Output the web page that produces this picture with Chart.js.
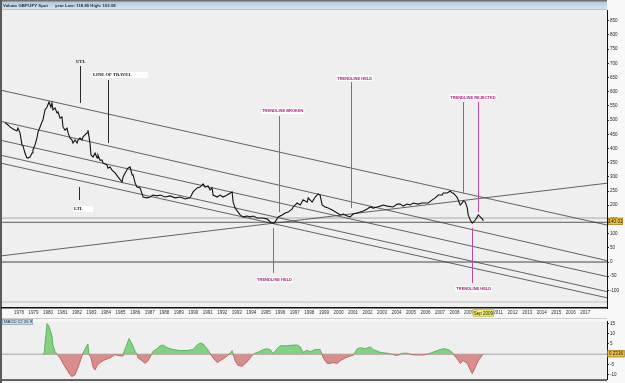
<!DOCTYPE html>
<html lang="en">
<head>
<meta charset="UTF-8" />
<title>GBP/JPY Spot</title>
<script src="https://cdn.jsdelivr.net/npm/chart.js"></script>
<style>
  html, body { margin: 0; padding: 0; background: #f8f8f8; }
  body { width: 625px; height: 383px; position: relative; overflow: hidden; }
  #main { position: absolute; left: 0; top: 0; width: 625px; height: 318px; }
  #macd { position: absolute; left: 0; top: 318px; width: 625px; height: 65px; }
</style>
</head>
<body>
<div id="main"><canvas id="priceChart"></canvas></div>
<div id="macd"><canvas id="macdChart"></canvas></div>

<script>
// GBP/JPY spot (decimal years)
const priceYears = [1977.03,1977.24,1977.38,1977.59,1977.86,1977.93,1978.07,1978.21,1978.28,1978.41,1978.55,1978.62,1978.76,1978.90,1978.96,1979.10,1979.24,1979.31,1979.45,1979.58,1979.65,1979.79,1979.93,1980.07,1980.20,1980.27,1980.34,1980.48,1980.62,1980.69,1980.83,1980.96,1981.03,1981.17,1981.31,1981.38,1981.51,1981.65,1981.72,1981.86,1982.00,1982.07,1982.20,1982.34,1982.41,1982.69,1982.75,1982.89,1982.96,1983.10,1983.24,1983.38,1983.44,1983.58,1983.72,1983.79,1984.06,1984.13,1984.27,1984.41,1984.62,1984.82,1985.10,1985.17,1985.31,1985.51,1985.65,1985.79,1985.86,1986.00,1986.13,1986.34,1986.55,1986.82,1987.03,1987.23,1987.51,1987.72,1988.06,1988.41,1988.75,1989.10,1989.44,1989.78,1989.99,1990.27,1990.47,1990.68,1990.82,1991.02,1991.16,1991.30,1991.37,1991.65,1991.85,1992.06,1992.33,1992.68,1992.75,1992.89,1993.09,1993.23,1993.44,1993.71,1993.92,1994.13,1994.40,1994.75,1995.09,1995.30,1995.51,1995.64,1995.85,1996.13,1996.33,1996.54,1996.82,1996.88,1997.16,1997.37,1997.57,1997.85,1997.92,1998.19,1998.40,1998.61,1998.74,1998.88,1999.09,1999.30,1999.57,1999.92,2000.12,2000.33,2000.61,2000.81,2001.02,2001.29,2001.50,2001.71,2001.98,2002.19,2002.40,2002.67,2002.88,2003.09,2003.36,2003.77,2004.05,2004.26,2004.46,2004.74,2004.95,2005.15,2005.50,2005.77,2005.98,2006.19,2006.46,2006.67,2006.88,2007.15,2007.22,2007.50,2007.70,2007.84,2007.91,2008.05,2008.19,2008.39,2008.53,2008.60,2008.74,2008.88,2008.94,2009.08,2009.22,2009.29,2009.43,2009.56,2009.63,2009.77,2009.91,2009.98];
const priceValues = [491,483,476,469,462,472,455,412,409,384,367,367,370,384,395,412,437,458,476,493,500,536,546,564,546,560,536,543,525,529,507,511,476,465,472,455,437,430,419,430,419,430,437,430,441,455,465,419,377,370,384,367,377,359,359,349,342,331,335,324,314,300,282,300,314,331,335,307,307,278,264,261,229,226,229,236,233,236,229,233,226,229,222,226,247,261,264,275,264,268,254,261,236,229,236,229,236,247,211,190,176,166,159,162,159,162,155,155,152,141,137,141,159,166,173,176,187,194,208,201,219,211,226,211,229,240,236,201,194,190,183,173,166,169,162,159,169,173,176,180,187,194,190,194,197,201,197,194,204,204,197,204,201,208,204,208,208,208,219,226,236,236,243,243,250,243,243,236,226,201,208,215,211,190,166,148,137,141,148,159,166,159,152,145];

// MACD 12 26 9 histogram
const macdYears = [1979.72,1979.93,1980.07,1980.27,1980.34,1980.48,1980.62,1980.83,1981.03,1981.31,1981.51,1981.65,1981.86,1982.07,1982.34,1982.41,1982.62,1982.75,1982.82,1982.96,1983.10,1983.24,1983.38,1983.58,1983.79,1984.06,1984.27,1984.62,1984.75,1984.96,1985.17,1985.24,1985.44,1985.58,1985.79,1986.00,1986.13,1986.20,1986.48,1986.68,1986.89,1987.10,1987.23,1987.51,1987.72,1987.92,1988.20,1988.41,1988.61,1989.10,1989.58,1989.99,1990.27,1990.47,1990.68,1990.96,1991.16,1991.37,1991.65,1991.85,1992.06,1992.33,1992.54,1992.68,1992.75,1992.89,1993.09,1993.37,1993.58,1993.78,1994.06,1994.26,1994.61,1994.82,1995.09,1995.30,1995.51,1995.78,1995.99,1996.47,1996.88,1997.16,1997.37,1997.57,1997.85,1998.06,1998.40,1998.74,1998.88,1998.95,1999.23,1999.43,1999.64,1999.92,2000.12,2000.47,2000.81,2001.02,2001.29,2001.50,2001.85,2002.19,2002.40,2002.88,2003.36,2003.71,2003.91,2004.12,2004.26,2004.40,2004.74,2004.95,2005.15,2005.50,2005.84,2006.12,2006.33,2006.67,2007.01,2007.22,2007.57,2007.84,2007.91,2008.19,2008.39,2008.60,2008.88,2009.08,2009.22,2009.43,2009.63,2009.91,2009.98];
const macdValues = [0,15.0,13.6,9.1,4.5,1.4,0,-1.8,-4.5,-7.7,-10.0,-10.9,-10.0,-6.4,-0.9,0.5,3.6,5.0,0,-1.8,-6.4,-7.7,-5.5,-4.1,-3.2,-2.3,-1.8,-0.2,-0.5,-0.7,-0.9,1.4,5.0,7.7,5.0,1.4,0,-1.8,-3.2,-4.5,-3.2,-0.5,1.4,2.7,4.1,4.5,3.2,2.7,2.3,1.8,1.8,2.3,4.5,5.5,5.0,2.7,0.5,-1.8,-4.1,-3.2,-2.3,-0.9,0.5,1.8,0,-3.2,-5.5,-5.9,-4.5,-3.2,-0.5,0.5,1.4,2.3,2.7,2.3,0.3,2.7,4.1,4.1,4.5,4.5,3.6,0.9,2.0,1.2,2.3,2.3,0,-1.8,-4.5,-4.5,-4.1,-4.5,-3.2,-1.8,-0.9,-0.5,2.7,3.2,2.7,3.6,2.3,0.9,0.5,0,-0.5,-0.5,0,0.5,0.5,0,-0.3,-0.4,-0.4,0,0.5,1.4,2.3,2.7,2.3,0.9,0,-2.3,-4.5,-3.2,-4.5,-7.7,-9.5,-6.4,-3.2,-0.5,0.2];

// drawn trendlines: value at the left and right edge of the chart
const trendNames = ['UTL', 'Line of travel', 'Channel 3', 'Channel 4', 'LTL', 'Rising support'];
const trendStart = [604.6, 495, 428, 375.3, 347.4, 21.9];
const trendEnd = [130.4, 5, -51.4, -104.3, -126.1, 277.7];
const levelValues = [155, 140.01, 0, -141];

// tick labels
const yearLabels = [1978,1979,1980,1981,1982,1983,1984,1985,1986,1987,1988,1989,1990,1991,1992,1993,1994,1995,1996,1997,1998,1999,2000,2001,2002,2003,2004,2005,2006,2007,2008,2009,2010,2011,2012,2013,2014,2015,2016,2017];
const priceTicks = [-100,-50,0,50,100,150,200,250,300,350,400,450,500,550,600,650,700,750,800,850];
const macdTicks = [-10,-5,0,5,10,15];

const lastPrice = 140.01;
const lastMacd = 0.2316;
const lastDate = 'Sep 2009';

// callouts (text and pointer lines), placed in data units
const noteTexts = ['UTL', 'LINE OF TRAVEL', 'LTL', 'TRENDLINE BROKEN', 'TRENDLINE HELD', 'TRENDLINE REJECTED', 'TRENDLINE HELD', 'TRENDLINE HELD'];
const noteYear = [1981.93, 1983.10, 1981.79, 1994.75, 1999.92, 2007.70, 1994.40, 2008.12];
const noteValue = [705, 659, 187, 532, 648, 581, -63, -95];
const noteBoxTo = [null, 1986.89, 1983.10, null, null, null, null, null];
const pointerYear = [1982.20, 1984.13, 1982.13, 1995.92, 2000.88, 2008.60, 2009.63, 1995.51, 2009.22];
const pointerFrom = [690.6, 641.3, 264.3, 514.5, 634.3, 563.8, 563.8, 119.8, 119.8];
const pointerTo = [560.3, 419.3, 218.5, 176.2, 190.3, 243.1, 176.2, -38.7, -74.0];

const xMin = 1976.83, xMax = 2018.5;

Chart.defaults.font.family = 'Arial';
Chart.defaults.animation = false;

function tag(ctx, text, cx, cy, w, fill, stroke) {
  ctx.fillStyle = fill;
  ctx.fillRect(cx - w / 2, cy - 3.5, w, 7);
  ctx.strokeStyle = stroke;
  ctx.lineWidth = 0.6;
  ctx.strokeRect(cx - w / 2 + 0.3, cy - 3.2, w - 0.6, 6.4);
  ctx.fillStyle = '#111';
  ctx.font = '4.5px Arial';
  ctx.textAlign = 'center';
  ctx.textBaseline = 'middle';
  ctx.fillText(text, cx, cy + 0.3);
}

const priceFrame = {
  id: 'priceFrame',
  beforeDraw(chart) {
    const { ctx, chartArea: a } = chart;
    ctx.save();
    ctx.fillStyle = '#f8f8f8';
    ctx.fillRect(0, 0, chart.width, chart.height);
    ctx.fillStyle = '#efefef';
    ctx.fillRect(a.left, a.top, a.right - a.left, a.bottom - a.top);
    // header bar
    const g = ctx.createLinearGradient(0, 0, 0, a.top);
    g.addColorStop(0, '#a8c0d4');
    g.addColorStop(1, '#dce8f1');
    ctx.fillStyle = g;
    ctx.fillRect(0, 0, a.right, a.top);
    ctx.fillStyle = '#707070';
    ctx.fillRect(0, 0, a.right, 1.5);
    ctx.fillStyle = '#8aa0b2';
    ctx.fillRect(0, a.top - 0.5, a.right, 0.5);
    ctx.fillStyle = '#5a5a5a';
    ctx.fillRect(0, 0, a.left, chart.height);
    ctx.font = 'bold 4.3px Arial';
    ctx.fillStyle = '#1c2c3c';
    ctx.textBaseline = 'middle';
    ctx.fillText('Value', 3, 6);
    ctx.fillRect(13.5, 5.5, 3.5, 1);
    ctx.fillText('GBP/JPY Spot', 18.5, 6);
    ctx.fillText('year Low: 118.85 High: 163.08', 55, 6);
    ctx.restore();
  },
  afterDatasetsDraw(chart) {
    const { ctx } = chart;
    const xs = chart.scales.x, ys = chart.scales.y;
    ctx.save();
    pointerYear.forEach((yr, i) => {
      const px = Math.round(xs.getPixelForValue(yr)) + 0.5;
      ctx.strokeStyle = i < 3 ? '#2a2a2a' : '#c2489a';
      ctx.lineWidth = 1;
      ctx.beginPath();
      ctx.moveTo(px, ys.getPixelForValue(pointerFrom[i]));
      ctx.lineTo(px, ys.getPixelForValue(pointerTo[i]));
      ctx.stroke();
    });
    noteTexts.forEach((t, i) => {
      const black = i < 3;
      ctx.font = black ? 'bold 4.6px "Liberation Serif"' : 'bold 4px Arial';
      const x = xs.getPixelForValue(noteYear[i]);
      const y = ys.getPixelForValue(noteValue[i]);
      const w = ctx.measureText(t).width;
      const right = noteBoxTo[i] ? xs.getPixelForValue(noteBoxTo[i]) : x + w + 1;
      if (i > 0) {
        ctx.fillStyle = '#ffffff';
        ctx.fillRect(x - 1, y - 3, right - x + 1, 6);
      }
      ctx.fillStyle = black ? '#111' : '#b3207f';
      ctx.textAlign = 'left';
      ctx.textBaseline = 'middle';
      ctx.fillText(t, x, y + 0.3);
    });
    ctx.restore();
  },
  afterDraw(chart) {
    const { ctx, chartArea: a } = chart;
    const xs = chart.scales.x, ys = chart.scales.y;
    ctx.save();
    tag(ctx, lastPrice.toFixed(2), a.right + 8.5, ys.getPixelForValue(lastPrice) - 1, 15, '#f2c24c', '#8c6a12');
    tag(ctx, lastDate, xs.getPixelForValue(priceYears[priceYears.length - 1]), a.bottom + 5, 21, '#f4ef70', '#a8a030');
    ctx.restore();
  }
};

const macdFrame = {
  id: 'macdFrame',
  beforeDraw(chart) {
    const { ctx, chartArea: a } = chart;
    ctx.save();
    ctx.fillStyle = '#f8f8f8';
    ctx.fillRect(0, 0, chart.width, chart.height);
    ctx.fillStyle = '#efefef';
    ctx.fillRect(a.left, a.top, a.right - a.left, a.bottom - a.top);
    ctx.fillStyle = '#5a5a5a';
    ctx.fillRect(0, 0, a.left, chart.height);
    ctx.fillStyle = '#b8b8b8';
    ctx.fillRect(a.left, 0, a.right - a.left, 0.7);
    ctx.restore();
  },
  afterDraw(chart) {
    const { ctx, chartArea: a } = chart;
    const ys = chart.scales.y;
    ctx.save();
    ctx.fillStyle = '#333';
    ctx.fillRect(a.left, a.bottom, a.right - a.left, 1.5);
    ctx.fillStyle = '#c9dcea';
    ctx.fillRect(a.left, 1, 31, 6);
    ctx.strokeStyle = '#7c98ae';
    ctx.lineWidth = 0.6;
    ctx.strokeRect(a.left + 0.3, 1.3, 30.4, 5.4);
    ctx.fillStyle = '#1c2c3c';
    ctx.font = '4.3px Arial';
    ctx.textBaseline = 'middle';
    ctx.textAlign = 'left';
    ctx.fillText('MACD 12 26 9', a.left + 2, 4.2);
    tag(ctx, lastMacd.toFixed(4), a.right + 9, ys.getPixelForValue(lastMacd), 17, '#f2c24c', '#8c6a12');
    ctx.restore();
  }
};

const lineDs = (label, pts, color, width) => ({
  label, data: pts, borderColor: color, borderWidth: width,
  pointRadius: 0, tension: 0, fill: false
});

const datasets = [
  lineDs('GBP/JPY', priceYears.map((x, i) => ({ x, y: priceValues[i] })), '#111', 1.1)
];
trendNames.forEach((name, i) => {
  datasets.push(lineDs(name, [{ x: xMin, y: trendStart[i] }, { x: xMax, y: trendEnd[i] }], '#3c3c3c', 0.8));
});
const levelColors = ['#a0a0a0', '#4a4a4a', '#333333', '#bdbdbd'];
levelValues.forEach((v, i) => {
  datasets.push(lineDs('level ' + v, [{ x: xMin, y: v }, { x: xMax, y: v }], levelColors[i], i === 3 ? 1 : 0.9));
});

new Chart(document.getElementById('priceChart'), {
  type: 'line',
  data: { datasets },
  plugins: [priceFrame],
  options: {
    responsive: true,
    maintainAspectRatio: false,
    layout: { padding: { top: 10, left: 2, right: 0, bottom: 0 } },
    plugins: { legend: { display: false }, tooltip: { enabled: false } },
    scales: {
      x: {
        type: 'linear', min: xMin, max: xMax,
        afterBuildTicks: s => { s.ticks = yearLabels.map(v => ({ value: v })); },
        afterFit: s => { s.height = 10; },
        ticks: { autoSkip: false, maxRotation: 0, padding: 2.5, color: '#333', font: { size: 4.5 }, callback: v => String(v) },
        grid: { display: false, drawTicks: false },
        border: { display: true, color: '#111', width: 1.5 }
      },
      y: {
        position: 'right', min: -162, max: 888,
        afterBuildTicks: s => { s.ticks = priceTicks.map(v => ({ value: v })); },
        afterFit: s => { s.width = 18; },
        ticks: { padding: 1, color: '#222', font: { size: 4.5 }, callback: v => String(v) },
        grid: { drawOnChartArea: false, tickLength: 2, color: '#333' },
        border: { display: true, color: '#111', width: 1 }
      }
    }
  }
});

new Chart(document.getElementById('macdChart'), {
  type: 'line',
  data: {
    datasets: [
      {
        label: 'MACD hist',
        data: macdYears.map((x, i) => ({ x, y: macdValues[i] })),
        borderWidth: 0.8,
        pointRadius: 0,
        tension: 0,
        segment: {
          borderColor: c => (c.p0.parsed.y + c.p1.parsed.y) >= 0 ? '#4daa4d' : '#b85252'
        },
        fill: { target: { value: 0 }, above: 'rgba(118,206,118,0.9)', below: 'rgba(214,130,130,0.9)' }
      },
      lineDs('zero', [{ x: xMin, y: 0 }, { x: xMax, y: 0 }], '#9a9a9a', 0.9)
    ]
  },
  plugins: [macdFrame],
  options: {
    responsive: true,
    maintainAspectRatio: false,
    layout: { padding: { top: 0, left: 2, right: 0, bottom: 3 } },
    plugins: { legend: { display: false }, tooltip: { enabled: false } },
    scales: {
      x: { type: 'linear', min: xMin, max: xMax, display: false },
      y: {
        position: 'right', min: -12.27, max: 15.9,
        afterBuildTicks: s => { s.ticks = macdTicks.map(v => ({ value: v })); },
        afterFit: s => { s.width = 18; },
        ticks: { padding: 1, color: '#222', font: { size: 4.5 }, callback: v => String(v) },
        grid: { drawOnChartArea: false, tickLength: 2, color: '#333' },
        border: { display: true, color: '#111', width: 1 }
      }
    }
  }
});
</script>
</body>
</html>
